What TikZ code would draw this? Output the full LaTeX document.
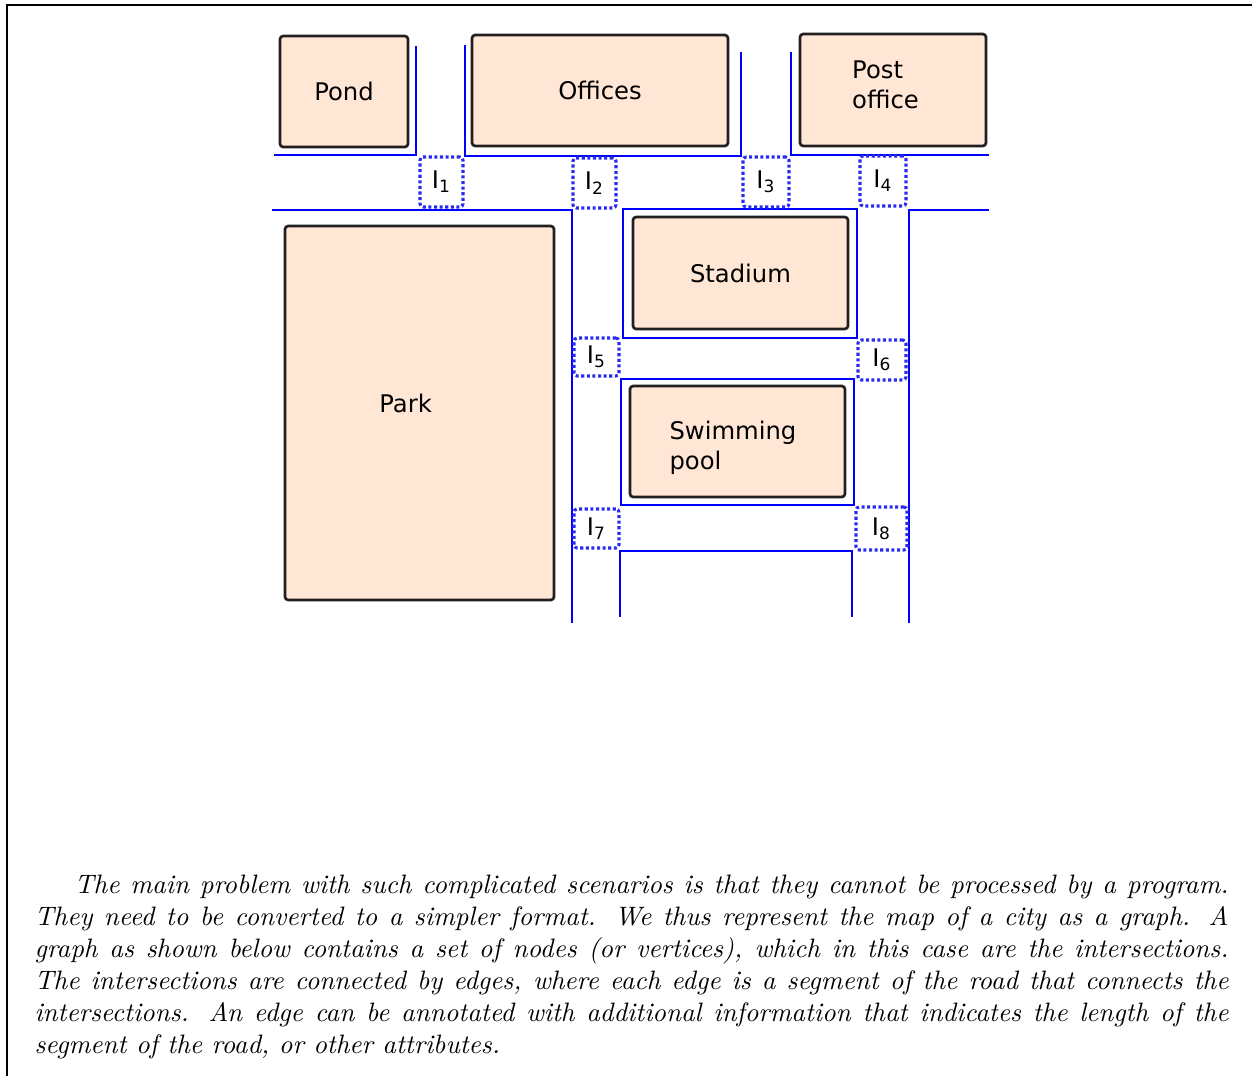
\documentclass[tikz,border=0pt]{standalone}
\usepackage{fontspec}
\newfontfamily\mapfont{DejaVu Sans}
\usepackage{tikz}

\definecolor{peach}{HTML}{FFE6D5}
\definecolor{edge}{HTML}{231F20}
\definecolor{crossblue}{HTML}{2A2AF0}

\begin{document}
\begin{tikzpicture}[
    x=0.375pt, y=-0.375pt, % pixel grid, y down
    every node/.style={font=\mapfont\fontsize{9.1}{11.4}\selectfont},
    frame/.style={black, line width=0.5pt}, % page frame
    road/.style={blue, line width=0.7pt}, % road borders
    boxsize/.style 2 args={minimum width=#1*0.375pt, minimum height=#2*0.375pt},
    building/.style={draw=edge, fill=peach, line width=1pt, rounded corners=1.2pt, inner sep=0pt},
    cross/.style={draw=crossblue, line width=1.15pt, dash pattern=on 1.15pt off 0.95pt, rounded corners=1.2pt, inner sep=0pt},
    para/.style={anchor=north west, inner sep=0pt, text width=447.75pt, align=justify,
        font=\rmfamily\itshape\fontsize{10}{12}\selectfont}
]
    \useasboundingbox (0,0) rectangle (1252,1076);

    % 1. frame of the page
    \draw[frame] (1252,5) -- (7,5) -- (7,1076);

    % 2. buildings
    \node[building, boxsize={128}{111}] (pond) at (344,91.5) {Pond};
    \node[building, boxsize={256}{111}] (offices) at (600,90.5) {Offices};
    \node[building, boxsize={186}{112},
        label={[align=left, xshift=-2.8pt, yshift=2pt]center:Post\\office}] (post) at (893,90) {};
    \node[building, boxsize={269}{374},
        label={[xshift=-5.2pt, yshift=3.4pt]center:Park}] (park) at (419.5,413) {};
    \node[building, boxsize={215}{112}] (stadium) at (740.5,273) {Stadium};
    \node[building, boxsize={215}{111},
        label={[align=left, xshift=-1.7pt, yshift=-2.3pt]center:Swimming\\pool}] (pool) at (737.5,441.5) {};

    % 3. roads
    \draw[road] (274,155) -- (416,155) -- (416,46);
    \draw[road] (465,45) -- (465,156) -- (741,156) -- (741,52);
    \draw[road] (791,52) -- (791,155) -- (989,155);
    \draw[road] (272,210) -- (572,210) -- (572,623);
    \draw[road] (989,210) -- (909,210) -- (909,623);
    \draw[road] (623,209) rectangle (857,338); % round the stadium
    \draw[road] (621,379) rectangle (854,505); % round the pool
    \draw[road] (620,617) -- (620,551) -- (852,551) -- (852,617);

    % 4. intersections I1..I8
    \foreach \n/\x/\y/\w/\h in {1/441.5/182/43/50, 2/594.5/183/43/50,
        3/766/182/46/50, 4/883/181/46/50, 5/596.5/357/45/38,
        6/882/360/48/40, 7/596.5/528.5/45/39, 8/881.5/528.5/51/43} {
        \node[cross, boxsize={\w}{\h}] (i\n) at (\x,\y) {I\textsubscript{\n}};
    }

    % 5. text below the map
    \node[para] (text) at (34,874) {\hspace*{15pt}The main problem with such complicated scenarios is that they cannot be processed by a program.\linebreak
    They need to be converted to a simpler format. We thus represent the map of a city as a graph. A\linebreak
    graph as shown below contains a set of nodes (or vertices), which in this case are the intersections.\linebreak
    The intersections are connected by edges, where each edge is a segment of the road that connects the\linebreak
    intersections. An edge can be annotated with additional information that indicates the length of the\linebreak
    segment of the road, or other attributes.};
\end{tikzpicture}
\end{document}
